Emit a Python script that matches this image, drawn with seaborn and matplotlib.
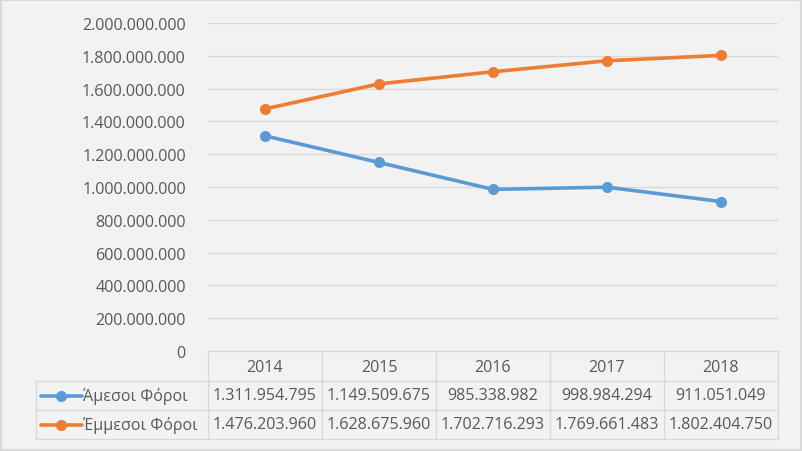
import matplotlib
matplotlib.use("Agg")
import matplotlib.pyplot as plt
import seaborn as sns
import pandas as pd
from matplotlib.ticker import FuncFormatter
from matplotlib.lines import Line2D
from matplotlib.patches import Rectangle

years = ["2014", "2015", "2016", "2017", "2018"]
series_names = ["Άμεσοι Φόροι", "Έμμεσοι Φόροι"]
direct = [1311954795, 1149509675, 985338982, 998984294, 911051049]
indirect = [1476203960, 1628675960, 1702716293, 1769661483, 1802404750]
colors = ["#5B9BD5", "#ED7D31"]

sns.set_theme(style="white")
plt.rcParams['font.family'] = ['Open Sans', 'DejaVu Sans']

W, H = 802, 452
FS = 11.6
fig = plt.figure(figsize=(W / 100, H / 100), dpi=100)
fig.patch.set_facecolor("#F2F2F2")

def fx(px):
    return px / W

def fy(py):
    return 1 - py / H

# outer border
fig.add_artist(Rectangle((0, 0), 1, 1, transform=fig.transFigure, fill=False,
                         edgecolor="#D9D9D9", linewidth=3))

L, R, T, B = 208, 778, 24, 352
ax = fig.add_axes([fx(L), fy(B), fx(R) - fx(L), fy(T) - fy(B)])
ax.set_facecolor("#F2F2F2")

df = pd.DataFrame({
    "x": list(range(len(years))) * 2,
    "value": direct + indirect,
    "series": [series_names[0]] * len(years) + [series_names[1]] * len(years),
})
sns.lineplot(data=df, x="x", y="value", hue="series", palette=colors,
             marker="o", markersize=8, markeredgewidth=0, linewidth=2.6,
             legend=False, ax=ax, zorder=3)

ax.set_xlim(-0.5, len(years) - 0.5)
ax.set_ylim(0, 2_000_000_000)
ax.set_yticks(range(0, 2_000_000_001, 200_000_000))
ax.yaxis.set_major_formatter(FuncFormatter(lambda v, p: f"{int(v):,}".replace(",", ".")))
ax.set_xticks([])
ax.set_xlabel("")
ax.set_ylabel("")
ax.grid(axis="y", color="#D9D9D9", linewidth=1)
for s in ax.spines.values():
    s.set_visible(False)
ax.tick_params(axis="y", length=0, pad=16, labelsize=FS, labelcolor="#595959")

# data table
txt_col = "#595959"
line_col = "#D9D9D9"
col_w = (R - L) / len(years)
rows_y = [352, 382, 411, 440]
fig.add_artist(Line2D([fx(L), fx(R)], [fy(rows_y[0])] * 2, color=line_col, lw=1))
for yy in rows_y[1:]:
    fig.add_artist(Line2D([fx(36), fx(R)], [fy(yy)] * 2, color=line_col, lw=1))
for i in range(len(years) + 1):
    xx = L + i * col_w
    fig.add_artist(Line2D([fx(xx)] * 2, [fy(rows_y[0]), fy(rows_y[3])], color=line_col, lw=1))
fig.add_artist(Line2D([fx(36)] * 2, [fy(rows_y[1]), fy(rows_y[3])], color=line_col, lw=1))

def fmt(v):
    return f"{v:,}".replace(",", ".")

for i, y in enumerate(years):
    cx = L + (i + 0.5) * col_w
    fig.text(fx(cx), fy((rows_y[0] + rows_y[1]) / 2 + 1), y, ha="center", va="center",
             fontsize=FS, color=txt_col)
for r, (vals, name, c) in enumerate(zip([direct, indirect], series_names, colors)):
    cy = (rows_y[r + 1] + rows_y[r + 2]) / 2
    for i, v in enumerate(vals):
        cx = L + (i + 0.5) * col_w
        fig.text(fx(cx), fy(cy), fmt(v), ha="center", va="center", fontsize=FS, color=txt_col)
    fig.add_artist(Line2D([fx(41), fx(82)], [fy(cy)] * 2, color=c, lw=2.6))
    fig.add_artist(Line2D([fx(61)], [fy(cy)], color=c, marker="o", markersize=8, markeredgewidth=0))
    fig.text(fx(83), fy(cy), name, ha="left", va="center", fontsize=FS, color=txt_col)

fig.savefig("out.png", dpi=100, facecolor=fig.get_facecolor())
